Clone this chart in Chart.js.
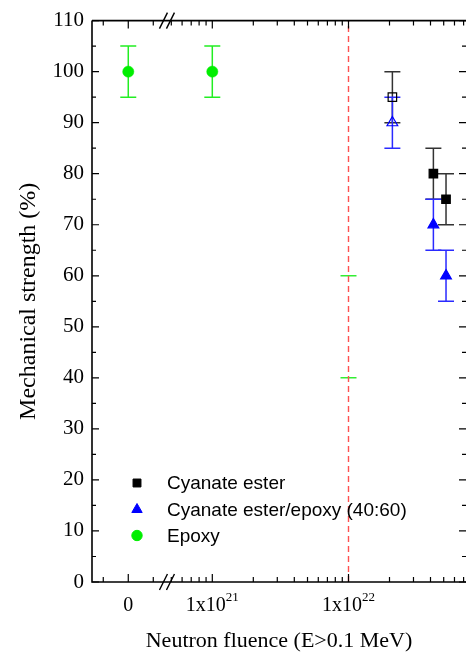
<!DOCTYPE html>
<html>
<head>
<meta charset="utf-8">
<script src="https://cdn.jsdelivr.net/npm/chart.js@4.4.1/dist/chart.umd.min.js"></script>
<style>
  html, body { margin: 0; padding: 0; background: #fff; overflow: hidden; }
</style>
</head>
<body>
<canvas id="chart" width="466" height="656"></canvas>
<script>
// values (fluence in n/m^2, strength in %)
const epoxyFluence = [0, 1e21];
const epoxyStrength = [100, 100];
const epoxyError = [5, 5];

const epoxyLimitFluence = [1e22, 1e22];
const epoxyLimits = [60, 40];

const ceFluence = [2.1e22, 4.2e22, 5.2e22];
const ceStrength = [95, 80, 75];
const ceError = [5, 5, 5];

const ceEpoxyFluence = [2.1e22, 4.2e22, 5.2e22];
const ceEpoxyStrength = [90, 70, 60];
const ceEpoxyError = [5, 5, 5];

const markerFluence = 1e22;
const yMin = 0, yMax = 110;

const xTickFluence = [0, 1e21, 1e22];
const xTickLabels = [['0', ''], ['1x10', '21'], ['1x10', '22']];
const xMinorFluence = [5e20, 6e20, 7e20, 8e20, 9e20,
  2e21, 3e21, 4e21, 5e21, 6e21, 7e21, 8e21, 9e21,
  2e22, 3e22, 4e22, 5e22, 6e22, 7e22];

const legendLabels = ['Cyanate ester', 'Cyanate ester/epoxy (40:60)', 'Epoxy'];

// broken x axis: a small linear piece for zero, then log10(fluence)
const X_MIN = 20.1167, X_MAX = 22.8627;
const ZERO_U = 20.383;
const ZERO_MINOR = 0.1836;
const BREAK_U = 20.667;
const toU = f => f === 0 ? ZERO_U : Math.log10(f);
const pts = (xs, ys) => xs.map((f, i) => ({ x: toU(f), y: ys[i] }));

const SERIF = '"Liberation Serif", "Times New Roman", serif';
const SANS = '"Liberation Sans", Arial, sans-serif';

const errorBars = {
  id: 'errorBars',
  beforeDatasetsDraw(chart) {
    const ctx = chart.ctx;
    const y = chart.scales.y;
    chart.data.datasets.forEach((ds, i) => {
      if (!ds.errors) return;
      const meta = chart.getDatasetMeta(i);
      ctx.save();
      ctx.strokeStyle = ds.errorColor;
      ctx.lineWidth = 1.5;
      meta.data.forEach((p, j) => {
        const v = ds.data[j].y, e = ds.errors[j];
        const y1 = y.getPixelForValue(v + e), y2 = y.getPixelForValue(v - e);
        ctx.beginPath();
        ctx.moveTo(p.x, y1); ctx.lineTo(p.x, y2);
        ctx.moveTo(p.x - 8, y1); ctx.lineTo(p.x + 8, y1);
        ctx.moveTo(p.x - 8, y2); ctx.lineTo(p.x + 8, y2);
        ctx.stroke();
      });
      ctx.restore();
    });
  }
};

const frame = {
  id: 'frame',
  afterDraw(chart) {
    const ctx = chart.ctx;
    const { left, right, top, bottom } = chart.chartArea;
    const xs = chart.scales.x, ys = chart.scales.y;
    ctx.save();
    ctx.strokeStyle = '#000';
    ctx.lineWidth = 1.6;
    ctx.beginPath();
    ctx.moveTo(left, top); ctx.lineTo(left, bottom); ctx.lineTo(right + 2, bottom);
    ctx.moveTo(left, top); ctx.lineTo(right + 2, top);
    ctx.stroke();

    ctx.lineWidth = 1.2;
    ctx.beginPath();
    // y ticks, left and right
    for (let v = yMin; v <= yMax; v += 5) {
      const py = ys.getPixelForValue(v);
      const len = v % 10 === 0 ? 7 : 4;
      ctx.moveTo(left, py); ctx.lineTo(left + len, py);
      ctx.moveTo(right, py); ctx.lineTo(right - len, py);
    }
    // x ticks, bottom and top
    const xTick = (u, len) => {
      const px = xs.getPixelForValue(u);
      ctx.moveTo(px, bottom); ctx.lineTo(px, bottom - len);
      ctx.moveTo(px, top); ctx.lineTo(px, top + len);
    };
    xTickFluence.forEach(f => xTick(toU(f), 8));
    xMinorFluence.forEach(f => xTick(toU(f), 5));
    xTick(ZERO_U - ZERO_MINOR, 5);
    xTick(ZERO_U + ZERO_MINOR, 5);
    ctx.stroke();

    // axis break marks
    const bx = xs.getPixelForValue(BREAK_U);
    ctx.lineWidth = 1.4;
    ctx.beginPath();
    [top, bottom].forEach(ay => {
      [-3.5, 3.5].forEach(dx => {
        ctx.moveTo(bx + dx - 4, ay + 8);
        ctx.lineTo(bx + dx + 4, ay - 8);
      });
    });
    ctx.stroke();

    // x tick labels with superscript
    ctx.fillStyle = '#000';
    ctx.textBaseline = 'alphabetic';
    xTickFluence.forEach((f, i) => {
      const px = xs.getPixelForValue(toU(f));
      const [base, sup] = xTickLabels[i];
      ctx.font = '20px ' + SERIF;
      const wb = ctx.measureText(base).width;
      ctx.font = '13px ' + SERIF;
      const ws = sup ? ctx.measureText(sup).width : 0;
      const x0 = px - (wb + ws) / 2;
      ctx.font = '20px ' + SERIF;
      ctx.textAlign = 'left';
      ctx.fillText(base, x0, bottom + 29);
      if (sup) {
        ctx.font = '13px ' + SERIF;
        ctx.fillText(sup, x0 + wb, bottom + 19);
      }
    });

    // legend
    const rows = [483, 509.5, 535.5];
    chart.data.datasets.filter(d => d.legendIndex !== undefined).forEach(d => {
      const ry = rows[d.legendIndex];
      ctx.fillStyle = d.pointBorderColor;
      ctx.strokeStyle = d.pointBorderColor;
      ctx.lineWidth = 1;
      Chart.helpers.drawPoint(ctx, { pointStyle: d.pointStyle, radius: d.legendRadius, rotation: 0, borderWidth: 1 }, 137, ry);
      ctx.fillStyle = '#000';
      ctx.font = '19px ' + SANS;
      ctx.textAlign = 'left';
      ctx.textBaseline = 'middle';
      ctx.fillText(legendLabels[d.legendIndex], 167, ry + 1);
    });
    ctx.restore();
  }
};

const openFirst = color => c => c.dataIndex === 0 ? 'rgba(0,0,0,0)' : color;

new Chart(document.getElementById('chart'), {
  type: 'scatter',
  data: {
    datasets: [
      {
        label: 'fluence limit',
        data: [{ x: toU(markerFluence), y: yMin }, { x: toU(markerFluence), y: yMax }],
        showLine: true,
        borderColor: '#ff5050',
        borderWidth: 1.4,
        borderDash: [6, 4],
        pointRadius: 0
      },
      {
        label: legendLabels[0],
        legendIndex: 0,
        legendRadius: 5.6,
        data: pts(ceFluence, ceStrength),
        errors: ceError,
        errorColor: '#333',
        pointStyle: 'rect',
        pointRadius: 6,
        pointBorderColor: '#000',
        pointBackgroundColor: openFirst('#000'),
        pointBorderWidth: 1.2
      },
      {
        label: legendLabels[1],
        legendIndex: 1,
        legendRadius: 6,
        data: pts(ceEpoxyFluence, ceEpoxyStrength),
        errors: ceEpoxyError,
        errorColor: '#2a2aff',
        pointStyle: 'triangle',
        pointRadius: 6.2,
        pointBorderColor: '#0000ff',
        pointBackgroundColor: openFirst('#0000ff'),
        pointBorderWidth: 1.2
      },
      {
        label: legendLabels[2],
        legendIndex: 2,
        legendRadius: 5.2,
        data: pts(epoxyFluence, epoxyStrength),
        errors: epoxyError,
        errorColor: '#22ee22',
        pointStyle: 'circle',
        pointRadius: 5.6,
        pointBorderColor: '#00ee00',
        pointBackgroundColor: '#00ee00',
        pointBorderWidth: 0.5
      },
      {
        label: 'epoxy limits',
        data: pts(epoxyLimitFluence, epoxyLimits),
        pointStyle: 'line',
        pointRadius: 8,
        pointBorderColor: '#33ee33',
        pointBorderWidth: 1.5
      }
    ]
  },
  options: {
    responsive: false,
    animation: false,
    devicePixelRatio: 1,
    layout: { autoPadding: false, padding: { top: 19, right: 0, left: 0, bottom: 0 } },
    plugins: { legend: { display: false }, tooltip: { enabled: false } },
    scales: {
      x: {
        type: 'linear',
        min: X_MIN,
        max: X_MAX,
        grid: { display: false },
        border: { display: false },
        ticks: { display: false },
        title: {
          display: true,
          text: 'Neutron fluence (E>0.1 MeV)',
          color: '#000',
          font: { family: SERIF, size: 22 },
          padding: { top: 0, bottom: 2 }
        },
        afterFit(scale) { scale.height = 74; }
      },
      y: {
        min: yMin,
        max: yMax,
        grid: { display: false, drawTicks: false },
        border: { display: false },
        ticks: {
          stepSize: 10,
          padding: 8,
          color: '#000',
          font: { family: SERIF, size: 21 }
        },
        title: {
          display: true,
          text: 'Mechanical strength (%)',
          color: '#000',
          font: { family: SERIF, size: 24 },
          padding: { top: 14, bottom: 0 }
        },
        afterFit(scale) { scale.width = 92; }
      }
    }
  },
  plugins: [errorBars, frame]
});
</script>
</body>
</html>
